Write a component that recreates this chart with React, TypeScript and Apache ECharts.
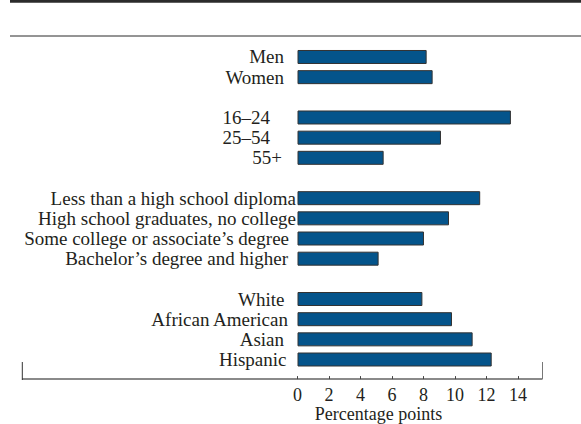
import React, { useEffect, useRef } from "react";
import * as echarts from "echarts";

// Labels and values (percentage points)
const sexLabels = ["Men", "Women"];
const sexValues = [8.2, 8.58];
const ageLabels = ["16–24", "25–54", "55+"];
const ageValues = [13.55, 9.11, 5.47];
const educationLabels = [
  "Less than a high school diploma",
  "High school graduates, no college",
  "Some college or associate’s degree",
  "Bachelor’s degree and higher",
];
const educationValues = [11.6, 9.62, 8.03, 5.15];
const raceLabels = ["White", "African American", "Asian", "Hispanic"];
const raceValues = [7.93, 9.81, 11.12, 12.33];
const xTicks = [0, 2, 4, 6, 8, 10, 12, 14];
const axisTitle = "Percentage points";

// label right padding (style only)
const labelPads = [12, 12, 0, 26, 26, 14, 0, 0, 0, 7, 8, 0, 11.5, 8, 12, 9.5];

const groups = [
  [sexLabels, sexValues],
  [ageLabels, ageValues],
  [educationLabels, educationValues],
  [raceLabels, raceValues],
] as [string[], number[]][];

const labels: string[] = [];
const values: (number | null)[] = [];
groups.forEach(([l, v], gi) => {
  if (gi > 0) {
    labels.push("");
    values.push(null);
  }
  l.forEach((s, i) => {
    labels.push(s);
    values.push(v[i]);
  });
});

const FONT = "Liberation Serif";
const FS = 19;
const FS_AXIS = 18;

export default function App() {
  const ref = useRef<HTMLDivElement>(null);
  useEffect(() => {
    if (!ref.current) return;
    const chart = echarts.init(ref.current, null, { renderer: "svg" });
    const rich: Record<string, any> = {};
    labelPads.forEach((p, i) => {
      rich["r" + i] = {
        fontFamily: FONT,
        fontSize: FS,
        color: "#231f20",
        padding: [0, p, 0, 0],
      };
    });
    chart.setOption({
      animation: false,
      backgroundColor: "#ffffff",
      grid: { left: 297.5, right: 63, top: 46.9, bottom: 54.4, containLabel: false },
      xAxis: {
        type: "value",
        min: xTicks[0],
        max: xTicks[xTicks.length - 1],
        interval: xTicks[1] - xTicks[0],
        position: "bottom",
        offset: 9.5,
        axisLine: { show: false },
        axisTick: { show: true, inside: true, length: 3, lineStyle: { color: "#444", width: 1 } },
        axisLabel: { fontFamily: FONT, fontSize: FS_AXIS, lineHeight: 18, color: "#231f20", margin: 7 },
        splitLine: { show: false },
      },
      yAxis: {
        type: "category",
        inverse: true,
        data: labels.map((_, i) => String(i)),
        axisLine: { show: false },
        axisTick: { show: false },
        axisLabel: {
          margin: 1.5,
          interval: 0,
          formatter: (_v: string, i: number) =>
            labels[i] ? "{r" + i + "|" + labels[i] + "}" : "",
          rich,
        },
      },
      series: [
        {
          type: "bar",
          data: values.map((v) => (v === null ? "-" : v)),
          barWidth: 14,
          itemStyle: { color: "#04548b", borderColor: "#333333", borderWidth: 1 },
        },
      ],
      graphic: [
        { type: "rect", shape: { x: 10, y: 0, width: 571, height: 2.7 }, style: { fill: "#2b2b2b" } },
        { type: "line", shape: { x1: 10, y1: 36, x2: 581, y2: 36 }, style: { stroke: "#2b2b2b", lineWidth: 1 } },
        { type: "line", shape: { x1: 22, y1: 379, x2: 542.5, y2: 379 }, style: { stroke: "#8a8a8a", lineWidth: 1.8 } },
        { type: "line", shape: { x1: 22.3, y1: 362, x2: 22.3, y2: 380 }, style: { stroke: "#333", lineWidth: 1 } },
        { type: "line", shape: { x1: 542.5, y1: 362, x2: 542.5, y2: 379 }, style: { stroke: "#777", lineWidth: 1 } },
        {
          type: "text",
          x: 378.5,
          y: 413.5,
          style: {
            text: axisTitle,
            font: `${FS_AXIS}px "${FONT}"`,
            lineHeight: 18,
            fill: "#231f20",
            textAlign: "center",
            textVerticalAlign: "middle",
          },
        },
      ],
    });
    return () => chart.dispose();
  }, []);
  return (
    <div
      ref={ref}
      style={{ position: "fixed", left: 0, top: 0, width: 581, height: 424, background: "#fff" }}
    />
  );
}
